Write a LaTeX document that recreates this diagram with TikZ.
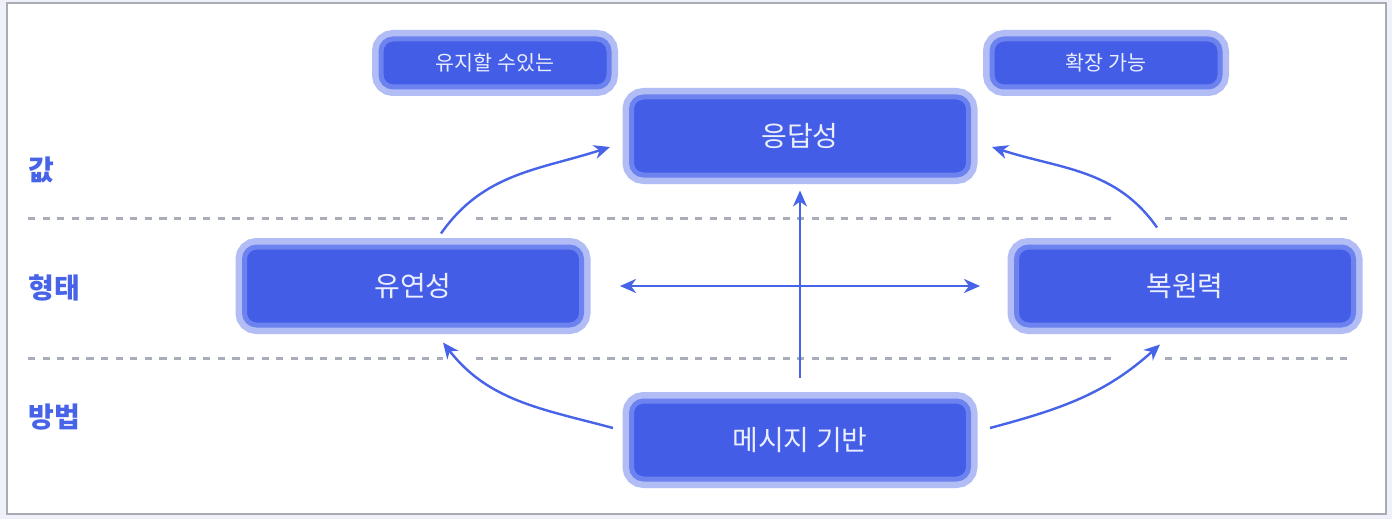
\documentclass[tikz,border=0pt]{standalone}
\usepackage{fontspec}
\newfontfamily\kr{Noto Sans CJK KR}
\usetikzlibrary{arrows.meta}
\definecolor{rsfill}{HTML}{435DE6}
\definecolor{rsmid}{HTML}{6C82EE}
\definecolor{rslite}{HTML}{B2BDF6}
\definecolor{rsink}{HTML}{4763E8}
\definecolor{rsgray}{HTML}{A9ADBA}
\definecolor{rsback}{HTML}{EEF1FA}
\definecolor{rsframe}{HTML}{A8ABB3}
\definecolor{rstext}{HTML}{EAEEFF}
\tikzset{rs/.tip={Stealth[length=8pt,width=7pt,inset=2.5pt]}}

\begin{document}
\begin{tikzpicture}[
  x=0.5pt, y=-0.5pt,
  pill/.style  = {rectangle, rounded corners=6pt, fill=rsfill, draw=rsmid, line width=2.5pt,
                  preaction={draw=rslite, line width=9pt}, text=rstext,
                  font=\kr\fontsize{14}{16}\selectfont, inner sep=0pt,
                  minimum width=168.5pt, minimum height=39pt},
  tag/.style   = {pill, font=\kr\fontsize{10.3}{12}\selectfont,
                  minimum width=114pt, minimum height=24pt},
  level/.style = {anchor=west, inner sep=0pt, text=rsink,
                  font=\kr\bfseries\fontsize{14}{16}\selectfont},
  link/.style  = {-rs, draw=rsink, line width=1.2pt},
  guide/.style = {draw=rsgray, line width=1.5pt, dash pattern=on 3.6pt off 3.7pt},
]
% frame
\fill[rsback] (0,0) rectangle (1392,519);
\draw[rsframe, fill=white, line width=1pt] (7,3) rectangle (1386,514);

% level guides
\foreach \y in {218,358} {
  \draw[guide] (28,\y) -- (443,\y);
  \draw[guide] (476,\y) -- (1117,\y);
  \draw[guide] (1165,\y) -- (1348,\y);
}

\node[level] (val)  at (28,170) {값};
\node[level] (form) at (28,288) {형태};
\node[level] (meth) at (28,417) {방법};

\node[tag]  (keep)  at (495,63)  {유지할 수있는};
\node[tag]  (grow)  at (1106,63) {확장 가능};
\node[pill] (resp)  at (800,136) {응답성};
\node[pill] (flex)  at (413,286) {유연성};
\node[pill] (resil) at (1185,286) {복원력};
\node[pill] (msg)   at (800,440) {메시지 기반};

\draw[link, shorten <=10.5pt, shorten >=6.5pt] (msg.north) -- (resp.south);
\draw[link, rs-rs, shorten <=18pt, shorten >=17pt] (flex.east) -- (resil.west);
\draw[link] ([xshift=14pt,yshift=5.5pt]flex.north) to[out=55,in=198] ([xshift=-9.5pt,yshift=-5.5pt]resp.west);
\draw[link] ([xshift=-14pt,yshift=8.5pt]resil.north) to[out=125,in=-18] ([xshift=10.5pt,yshift=-5.5pt]resp.east);
\draw[link] ([xshift=-8pt,yshift=6pt]msg.west) to[out=165,in=-52] ([xshift=15pt,yshift=-7.5pt]flex.south);
\draw[link] ([xshift=9.5pt,yshift=6pt]msg.east) to[out=15,in=222] ([xshift=-12.5pt,yshift=-8.5pt]resil.south);
\end{tikzpicture}
\end{document}
